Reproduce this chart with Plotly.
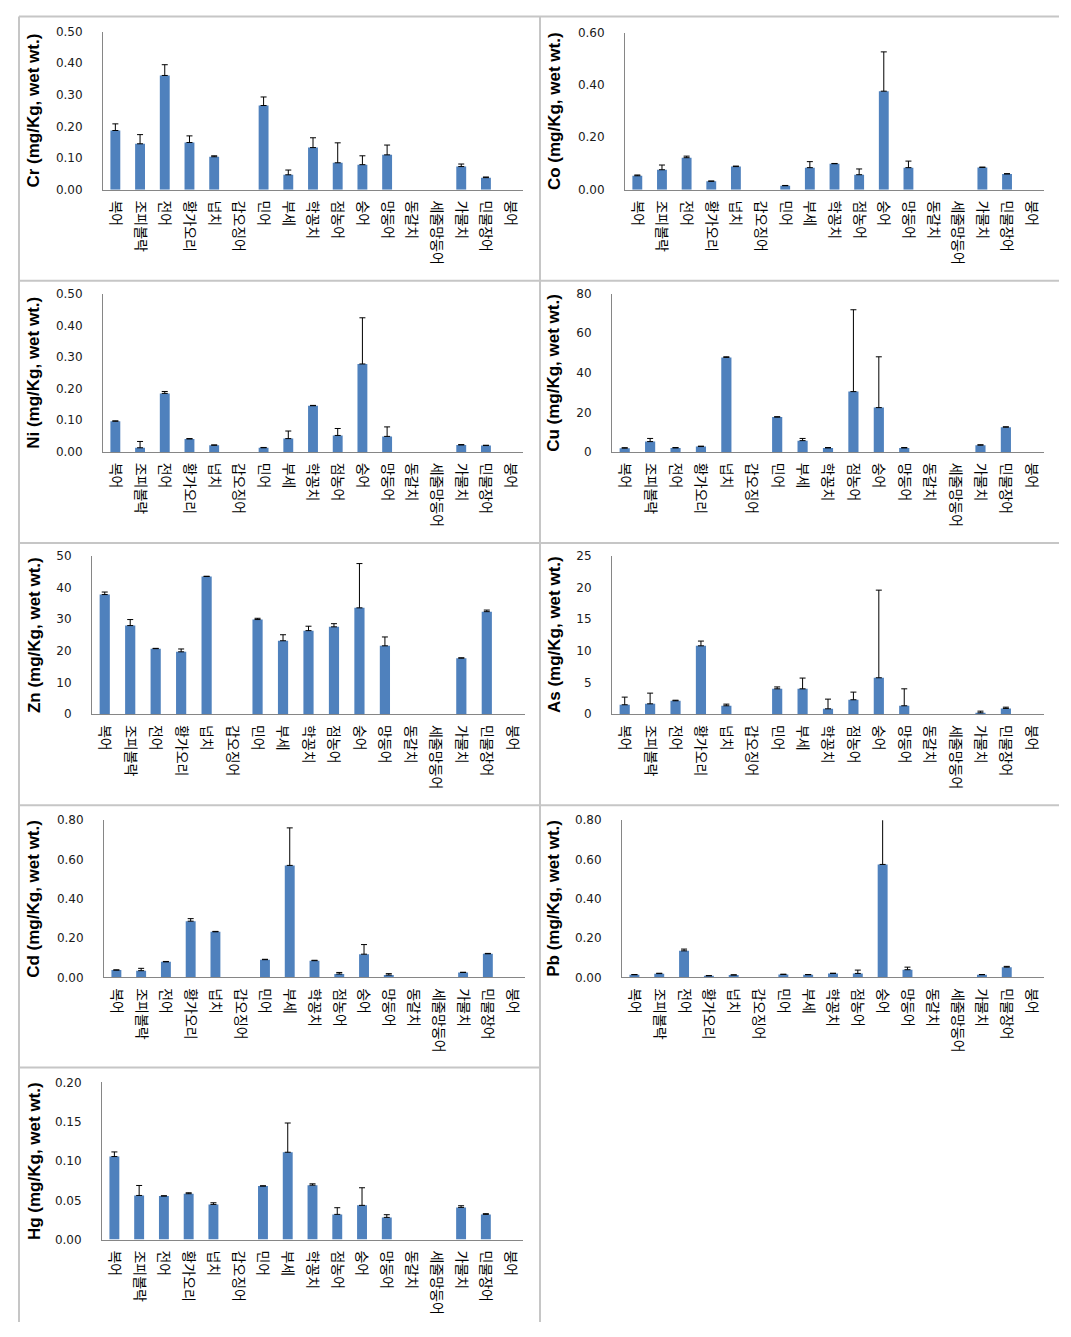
import plotly.graph_objects as go

# ---------------- data ----------------
species = ["복어", "조피볼락", "전어", "황가오리", "넙치", "갑오징어", "민어", "부세",
           "학꽁치", "점농어", "숭어", "망둥어", "동갈치", "세줄망둥어", "가물치", "민물장어", "붕어"]

cr_mean = [0.187, 0.145, 0.361, 0.149, 0.104, None, 0.266, 0.047, 0.133, 0.085, 0.079, 0.110, None, None, 0.073, 0.038, None]
cr_sd = [0.021, 0.029, 0.034, 0.021, 0.003, None, 0.027, 0.015, 0.031, 0.063, 0.028, 0.031, None, None, 0.008, 0.002, None]

co_mean = [0.053, 0.076, 0.122, 0.032, 0.088, None, 0.015, 0.084, 0.099, 0.057, 0.376, 0.084, None, None, 0.085, 0.060, None]
co_sd = [0.003, 0.018, 0.006, 0.001, 0.002, None, 0.001, 0.023, 0.001, 0.022, 0.150, 0.025, None, None, 0.001, 0.001, None]

ni_mean = [0.097, 0.013, 0.185, 0.041, 0.021, None, 0.013, 0.042, 0.146, 0.052, 0.278, 0.049, None, None, 0.022, 0.020, None]
ni_sd = [0.001, 0.020, 0.006, 0.001, 0.001, None, 0.001, 0.024, 0.001, 0.022, 0.146, 0.030, None, None, 0.001, 0.001, None]

cu_mean = [1.9, 5.2, 2.0, 2.7, 47.8, None, 17.6, 5.7, 2.0, 30.5, 22.4, 2.0, None, None, 3.4, 12.5, None]
cu_sd = [0.2, 1.6, 0.2, 0.2, 0.3, None, 0.2, 1.1, 0.2, 41.4, 25.7, 0.2, None, None, 0.2, 0.2, None]

zn_mean = [37.8, 28.0, 20.7, 19.7, 43.5, None, 29.9, 23.2, 26.4, 27.6, 33.6, 21.6, None, None, 17.7, 32.4, None]
zn_sd = [0.8, 1.9, 0.1, 0.9, 0.1, None, 0.4, 1.9, 1.4, 1.0, 14.0, 2.8, None, None, 0.1, 0.5, None]

as_mean = [1.48, 1.63, 2.11, 10.8, 1.32, None, 4.0, 4.0, 0.84, 2.27, 5.75, 1.32, None, None, 0.21, 0.90, None]
as_sd = [1.21, 1.69, 0.09, 0.75, 0.26, None, 0.3, 1.7, 1.53, 1.21, 13.85, 2.68, None, None, 0.26, 0.2, None]

cd_mean = [0.037, 0.034, 0.079, 0.286, 0.232, None, 0.090, 0.570, 0.085, 0.017, 0.118, 0.012, None, None, 0.025, 0.120, None]
cd_sd = [0.001, 0.012, 0.002, 0.013, 0.002, None, 0.002, 0.191, 0.002, 0.008, 0.049, 0.007, None, None, 0.001, 0.002, None]

pb_mean = [0.0135, 0.019, 0.135, 0.008, 0.012, None, 0.015, 0.0135, 0.020, 0.020, 0.575, 0.039, None, None, 0.0135, 0.052, None]
pb_sd = [0.001, 0.002, 0.009, 0.001, 0.001, None, 0.001, 0.001, 0.001, 0.017, 0.300, 0.013, None, None, 0.001, 0.004, None]

hg_mean = [0.1057, 0.0562, 0.0554, 0.0584, 0.0448, None, 0.0681, 0.1112, 0.0693, 0.0321, 0.0436, 0.0283, None, None, 0.0410, 0.0321, None]
hg_sd = [0.0059, 0.0127, 0.0004, 0.0012, 0.0021, None, 0.0004, 0.0372, 0.0017, 0.0085, 0.0224, 0.0034, None, None, 0.0021, 0.0009, None]

titles = ["Cr (mg/Kg, wet wt.)", "Co (mg/Kg, wet wt.)", "Ni (mg/Kg, wet wt.)", "Cu (mg/Kg, wet wt.)",
          "Zn (mg/Kg, wet wt.)", "As (mg/Kg, wet wt.)", "Cd (mg/Kg, wet wt.)", "Pb (mg/Kg, wet wt.)",
          "Hg (mg/Kg, wet wt.)"]
means = [cr_mean, co_mean, ni_mean, cu_mean, zn_mean, as_mean, cd_mean, pb_mean, hg_mean]
sds = [cr_sd, co_sd, ni_sd, cu_sd, zn_sd, as_sd, cd_sd, pb_sd, hg_sd]
y_max = [0.5, 0.6, 0.5, 80, 50, 25, 0.8, 0.8, 0.2]
y_step = [0.1, 0.2, 0.1, 20, 10, 5, 0.2, 0.2, 0.05]
y_fmt = [".2f", ".2f", ".2f", "d", "d", "d", ".2f", ".2f", ".2f"]

# ---------------- layout (target pixels) ----------------
OFF = 8                     # default body margin of the html page
W, H = 1071 - 2 * OFF, 1337 - 2 * OFF
Y_SHIFT, Y_SCALE = 6.6, 0.9885   # observed vertical mapping of the capture
# (x0, x1, ytop, ybottom) of each plot area in target pixels
boxes = [
    (103, 523, 31, 189), (625, 1044, 32, 189),
    (103, 523, 293, 451), (612, 1044, 293, 451),
    (92, 525, 555, 713), (612, 1044, 555, 713),
    (104, 525, 819, 976), (622, 1044, 819, 976),
    (102, 523, 1081, 1238),
]
title_x = [34, 554, 34, 554, 34, 554, 34, 554, 34]


def fx(p):
    return (p - OFF) / W


def fy(p):
    page = (p - Y_SHIFT) / Y_SCALE
    return min(1.0, max(0.0, 1 - (page - OFF) / H))


fig = go.Figure()
layout = dict(
    width=W, height=H, margin=dict(l=0, r=0, t=0, b=0),
    paper_bgcolor="white", plot_bgcolor="white",
    showlegend=False, bargap=0.6,
    annotations=[], shapes=[],
)

for i in range(9):
    xid = "x" if i == 0 else f"x{i+1}"
    yid = "y" if i == 0 else f"y{i+1}"
    xkey = "xaxis" if i == 0 else f"xaxis{i+1}"
    ykey = "yaxis" if i == 0 else f"yaxis{i+1}"
    x0, x1, yt, yb = boxes[i]
    upper = sds[i]
    lower = [0 if v is not None else None for v in means[i]]
    fig.add_trace(go.Bar(
        x=species, y=means[i], xaxis=xid, yaxis=yid,
        marker=dict(color="#4F81BD", line=dict(width=0)),
        error_y=dict(type="data", symmetric=False, array=upper, arrayminus=lower,
                     color="black", thickness=1, width=3),
        hoverinfo="x+y",
    ))
    layout[xkey] = dict(
        domain=[fx(x0), fx(x1)], anchor=yid, type="category",
        categoryorder="array", categoryarray=species,
        showline=True, linecolor="#868686", linewidth=1,
        ticks="", showgrid=False, zeroline=False,
        tickangle=90, ticklabelstandoff=7,
        tickfont=dict(family="Noto Sans CJK KR", size=14, color="black"),
    )
    layout[ykey] = dict(
        domain=[fy(yb), fy(yt)], anchor=xid,
        range=[0, y_max[i]], dtick=y_step[i], tick0=0, tickformat=y_fmt[i],
        showline=True, linecolor="#868686", linewidth=1,
        ticks="", showgrid=False, zeroline=False, ticklabelstandoff=17,
        tickfont=dict(family="DejaVu Sans", size=12, color="#1a1a1a"),
    )
    layout["annotations"].append(dict(
        text=titles[i], textangle=-90, showarrow=False,
        xref="paper", yref="paper", x=fx(title_x[i]), y=fy((yt + yb) / 2),
        xanchor="center", yanchor="middle",
        font=dict(family="Liberation Sans", size=17, color="black", weight="bold"),
    ))

# panel border lines (target pixels)
border = "#C6C6C6"
lines = [
    (19, 16, 1059, 16), (19, 280, 1059, 280), (19, 542, 1059, 542), (19, 804, 1059, 804),
    (19, 1066, 540, 1066), (19, 16, 19, 1330), (540, 16, 540, 1330),
]
for (a, b, c, d) in lines:
    layout["shapes"].append(dict(
        type="line", xref="paper", yref="paper",
        x0=fx(a), y0=fy(b), x1=fx(c), y1=fy(d),
        line=dict(color=border, width=2),
    ))

fig.update_layout(**layout)
fig.write_html("out.html")
